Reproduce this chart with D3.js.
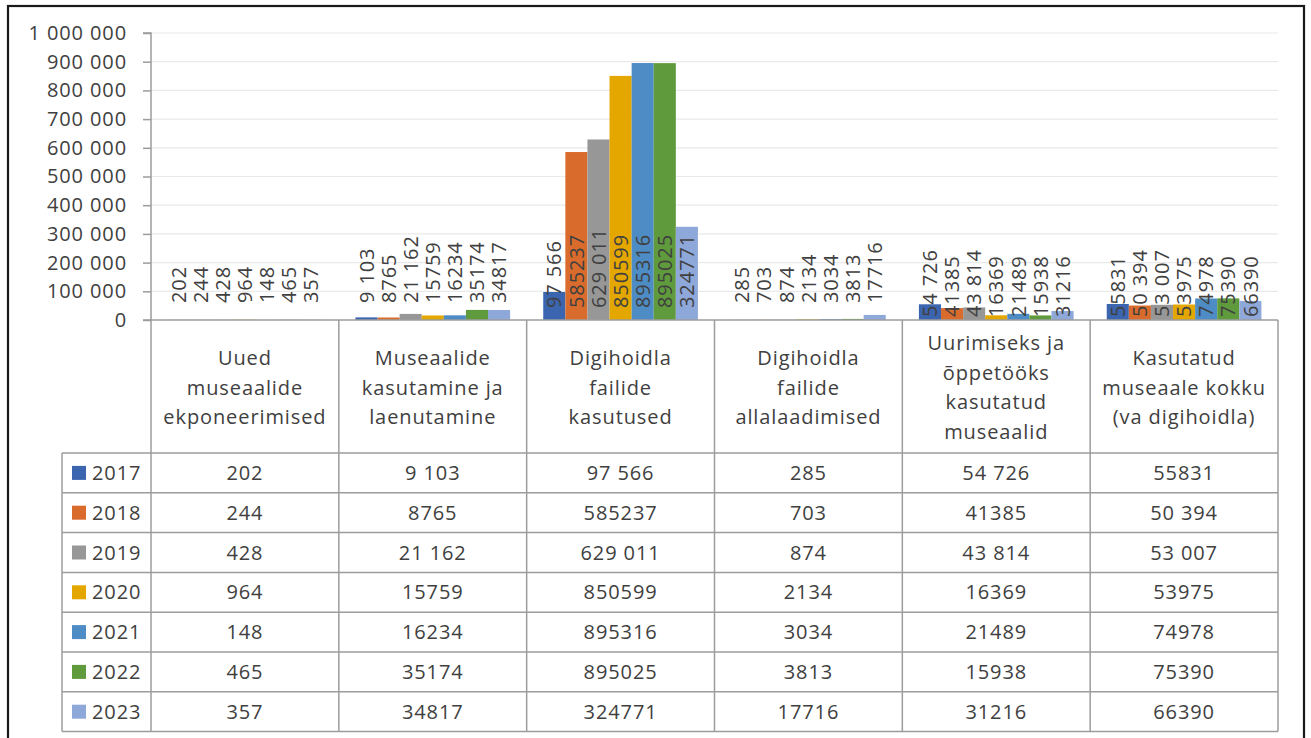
<!DOCTYPE html>
<html>
<head>
<meta charset="utf-8">
<script src="https://cdn.jsdelivr.net/npm/d3@7/dist/d3.min.js"></script>
<style>
  html, body { margin: 0; padding: 0; background: #fff; }
  svg text { font-family: "Open Sans", sans-serif; fill: #404040; }
</style>
</head>
<body>
<svg id="chart" width="1311" height="738"></svg>
<script>
// ---------------- DATA ----------------
const categories = [
  "Uued museaalide ekponeerimised",
  "Museaalide kasutamine ja laenutamine",
  "Digihoidla failide kasutused",
  "Digihoidla failide allalaadimised",
  "Uurimiseks ja õppetööks kasutatud museaalid",
  "Kasutatud museaale kokku (va digihoidla)"
];
const categoryLines = [
  ["Uued", "museaalide", "ekponeerimised"],
  ["Museaalide", "kasutamine ja", "laenutamine"],
  ["Digihoidla", "failide", "kasutused"],
  ["Digihoidla", "failide", "allalaadimised"],
  ["Uurimiseks ja", "õppetööks", "kasutatud", "museaalid"],
  ["Kasutatud", "museaale kokku", "(va digihoidla)"]
];
const years = ["2017", "2018", "2019", "2020", "2021", "2022", "2023"];

const values2017 = [202, 9103, 97566, 285, 54726, 55831];
const values2018 = [244, 8765, 585237, 703, 41385, 50394];
const values2019 = [428, 21162, 629011, 874, 43814, 53007];
const values2020 = [964, 15759, 850599, 2134, 16369, 53975];
const values2021 = [148, 16234, 895316, 3034, 21489, 74978];
const values2022 = [465, 35174, 895025, 3813, 15938, 75390];
const values2023 = [357, 34817, 324771, 17716, 31216, 66390];

const labels2017 = ["202", "9 103", "97 566", "285", "54 726", "55831"];
const labels2018 = ["244", "8765", "585237", "703", "41385", "50 394"];
const labels2019 = ["428", "21 162", "629 011", "874", "43 814", "53 007"];
const labels2020 = ["964", "15759", "850599", "2134", "16369", "53975"];
const labels2021 = ["148", "16234", "895316", "3034", "21489", "74978"];
const labels2022 = ["465", "35174", "895025", "3813", "15938", "75390"];
const labels2023 = ["357", "34817", "324771", "17716", "31216", "66390"];

const yTicks = [0, 100000, 200000, 300000, 400000, 500000, 600000, 700000, 800000, 900000, 1000000];

const seriesValues = [values2017, values2018, values2019, values2020, values2021, values2022, values2023];
const seriesLabels = [labels2017, labels2018, labels2019, labels2020, labels2021, labels2022, labels2023];

// ---------------- STYLE / LAYOUT ----------------
const colors = ["#3c65b0", "#d96b2c", "#979797", "#e3a700", "#4e8cc5", "#5f9b3c", "#8fa8da"];
const labelLift = [17, 17, 12, 17, 3, 3];   // per-group offset of data labels above the baseline
const plotLeft = 151, plotRight = 1278, plotTop = 33, plotBottom = 320;
const headerBottom = 453, rowH = 39.8, legendLeft = 62;
const gridColor = "#e9e9e9", lineColor = "#9c9c9c";

const fmt = d3.formatLocale({ decimal: ",", thousands: " ", grouping: [3], currency: ["", ""] }).format(",");

const svg = d3.select("#chart");

// outer frame
svg.append("rect").attr("x", 8).attr("y", 6).attr("width", 1296).attr("height", 745)
  .attr("fill", "none").attr("stroke", "#1a1a1a").attr("stroke-width", 2.2);

const y = d3.scaleLinear().domain([0, 1000000]).range([plotBottom, plotTop]);
const x0 = d3.scaleBand().domain(categories).range([plotLeft, plotRight]).padding(0);
const x1 = d3.scaleBand().domain(years).range([0, x0.bandwidth()]).paddingInner(0).paddingOuter(0.75);

// gridlines
svg.append("g").selectAll("line").data(yTicks.filter(d => d > 0)).join("line")
  .attr("x1", plotLeft).attr("x2", plotRight)
  .attr("y1", d => y(d)).attr("y2", d => y(d))
  .attr("stroke", gridColor).attr("stroke-width", 1.2);

// y axis
const yAxis = d3.axisLeft(y).tickValues(yTicks).tickSize(8).tickPadding(16).tickFormat(d => fmt(d));
const gy = svg.append("g").attr("transform", `translate(${plotLeft},0)`).call(yAxis);
gy.select(".domain").attr("stroke", lineColor).attr("stroke-width", 1.5).attr("d", `M-8,${plotTop}H0V${plotBottom}`);
gy.selectAll(".tick line").attr("stroke", lineColor).attr("stroke-width", 1.5);
gy.selectAll(".tick text").attr("font-size", 20).attr("letter-spacing", 0.9)
  .attr("fill", "#404040").style("font-family", "'Open Sans', sans-serif");

// bars
const groups = svg.append("g").selectAll("g").data(categories).join("g")
  .attr("transform", d => `translate(${x0(d)},0)`);

groups.each(function (cat, ci) {
  const g = d3.select(this);
  const rows = years.map((yr, si) => ({ yr, si, v: seriesValues[si][ci], lab: seriesLabels[si][ci] }));
  g.selectAll("rect").data(rows).join("rect")
    .attr("x", d => x1(d.yr)).attr("width", x1.bandwidth())
    .attr("y", d => y(d.v)).attr("height", d => y(0) - y(d.v))
    .attr("fill", d => colors[d.si]);
  g.selectAll("text").data(rows).join("text")
    .attr("transform", d => `translate(${x1(d.yr) + x1.bandwidth() / 2},${y(0) - labelLift[ci]}) rotate(-90)`)
    .attr("dy", "0.36em")
    .attr("text-anchor", "start")
    .attr("font-size", 20).attr("letter-spacing", 0.9)
    .text(d => d.lab);
});

// ---------------- DATA TABLE ----------------
const tableBottom = headerBottom + rowH * years.length;
const tg = svg.append("g");

// horizontal lines
tg.append("line").attr("x1", plotLeft - 8).attr("x2", plotRight).attr("y1", plotBottom).attr("y2", plotBottom)
  .attr("stroke", lineColor).attr("stroke-width", 1.5);
const hLines = d3.range(years.length + 1).map(i => headerBottom + i * rowH);
tg.selectAll("line.h").data(hLines).join("line").attr("class", "h")
  .attr("x1", legendLeft).attr("x2", plotRight).attr("y1", d => d).attr("y2", d => d)
  .attr("stroke", lineColor).attr("stroke-width", 1.5);

// vertical lines
const vX = categories.map(c => x0(c)).concat([plotRight]);
tg.selectAll("line.v").data(vX).join("line").attr("class", "v")
  .attr("x1", d => d).attr("x2", d => d).attr("y1", plotBottom).attr("y2", tableBottom)
  .attr("stroke", lineColor).attr("stroke-width", 1.5);
tg.append("line").attr("x1", legendLeft).attr("x2", legendLeft).attr("y1", headerBottom).attr("y2", tableBottom)
  .attr("stroke", lineColor).attr("stroke-width", 1.5);

// header text
categories.forEach((c, ci) => {
  const lines = categoryLines[ci];
  const lh = 29.5;
  const cy = (plotBottom + headerBottom) / 2 + 1;
  const cx = x0(c) + x0.bandwidth() / 2;
  const t = tg.append("text").attr("text-anchor", "middle").attr("font-size", 20).attr("letter-spacing", 0.9);
  lines.forEach((ln, li) => {
    t.append("tspan").attr("x", cx)
      .attr("y", cy + (li - (lines.length - 1) / 2) * lh + 7)
      .text(ln);
  });
});

// rows
years.forEach((yr, si) => {
  const ry = headerBottom + si * rowH;
  const cyRow = ry + rowH / 2;
  tg.append("rect").attr("x", 72).attr("y", cyRow - 7).attr("width", 14).attr("height", 14)
    .attr("fill", colors[si]);
  tg.append("text").attr("x", 92).attr("y", cyRow + 7).attr("font-size", 20).attr("letter-spacing", 0.9).text(yr);
  categories.forEach((c, ci) => {
    tg.append("text").attr("x", x0(c) + x0.bandwidth() / 2).attr("y", cyRow + 7)
      .attr("text-anchor", "middle").attr("font-size", 20).attr("letter-spacing", 0.9)
      .text(seriesLabels[si][ci]);
  });
});
</script>
</body>
</html>
